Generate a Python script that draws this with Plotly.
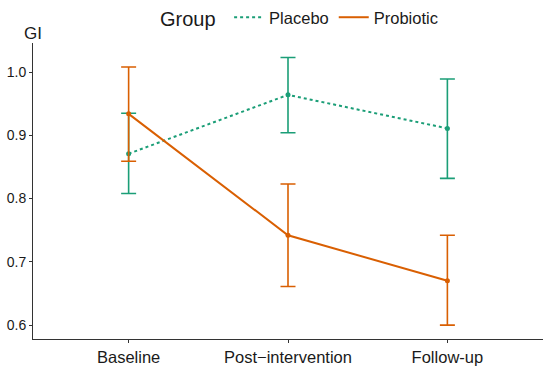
import plotly.graph_objects as go

categories = ["Baseline", "Post\u2212intervention", "Follow-up"]
placebo_mean = [0.871, 0.964, 0.911]
placebo_low = [0.808, 0.904, 0.832]
placebo_high = [0.935, 1.023, 0.989]
probiotic_mean = [0.934, 0.742, 0.670]
probiotic_low = [0.859, 0.661, 0.600]
probiotic_high = [1.008, 0.823, 0.742]
y_ticks = [0.6, 0.7, 0.8, 0.9, 1.0]

GREEN = "#1B9E77"
ORANGE = "#D95F02"
FONT = "Liberation Sans, Arial, sans-serif"

xpos = [1, 2, 3]
fig = go.Figure()


def add_series(name, mean, low, high, color, dash):
    fig.add_trace(go.Scatter(
        x=xpos, y=mean, mode="lines+markers", name=name, showlegend=False,
        line=dict(color=color, width=2, dash=dash),
        marker=dict(color=color, size=5),
        error_y=dict(type="data", symmetric=False,
                     array=[h - m for h, m in zip(high, mean)],
                     arrayminus=[m - l for m, l in zip(mean, low)],
                     color=color, thickness=1.6, width=7.5),
    ))
    fig.add_trace(go.Scatter(
        x=[None], y=[None], mode="lines", name=name, showlegend=True,
        line=dict(color=color, width=2, dash=dash),
    ))


add_series("Placebo", placebo_mean, placebo_low, placebo_high, GREEN, "dot")
add_series("Probiotic", probiotic_mean, probiotic_low, probiotic_high, ORANGE, "solid")

fig.update_layout(
    width=550, height=366,
    margin=dict(l=33, r=7, t=43, b=27, autoexpand=False),
    plot_bgcolor="white", paper_bgcolor="white",
    font=dict(family=FONT, color="#1a1a1a", size=14),
    showlegend=True,
    legend=dict(
        orientation="h", x=0.245, xanchor="left",
        yref="container", y=1.0, yanchor="top",
        title=dict(text="Group ", font=dict(size=20, family=FONT)),
        font=dict(size=16.5, family=FONT),
        bgcolor="rgba(0,0,0,0)",
    ),
    xaxis=dict(
        range=[0.4, 3.6], tickmode="array", tickvals=xpos, ticktext=categories,
        showline=True, linecolor="#333333", linewidth=1, ticks="outside",
        ticklen=3, tickcolor="#333333", showgrid=False, zeroline=False,
        tickfont=dict(size=16.5, family=FONT, color="#1a1a1a"),
        automargin=False,
    ),
    yaxis=dict(
        range=[0.578, 1.046], tickmode="array", tickvals=y_ticks,
        ticktext=[f"{v:.1f}" for v in y_ticks],
        showline=True, linecolor="#333333", linewidth=1, ticks="outside",
        ticklen=3, tickcolor="#333333", showgrid=False, zeroline=False,
        tickfont=dict(size=14, family=FONT, color="#1a1a1a"),
        automargin=False,
    ),
    annotations=[dict(
        text="GI", xref="paper", yref="paper", x=0, y=1, xanchor="center",
        yanchor="bottom", yshift=-2, showarrow=False,
        font=dict(size=17, family=FONT, color="#1a1a1a"),
    )],
)

fig.write_html(
    "out.html",
    config={"displayModeBar": False},
    post_script="document.body.style.margin='0';document.body.style.overflow='hidden';",
)
